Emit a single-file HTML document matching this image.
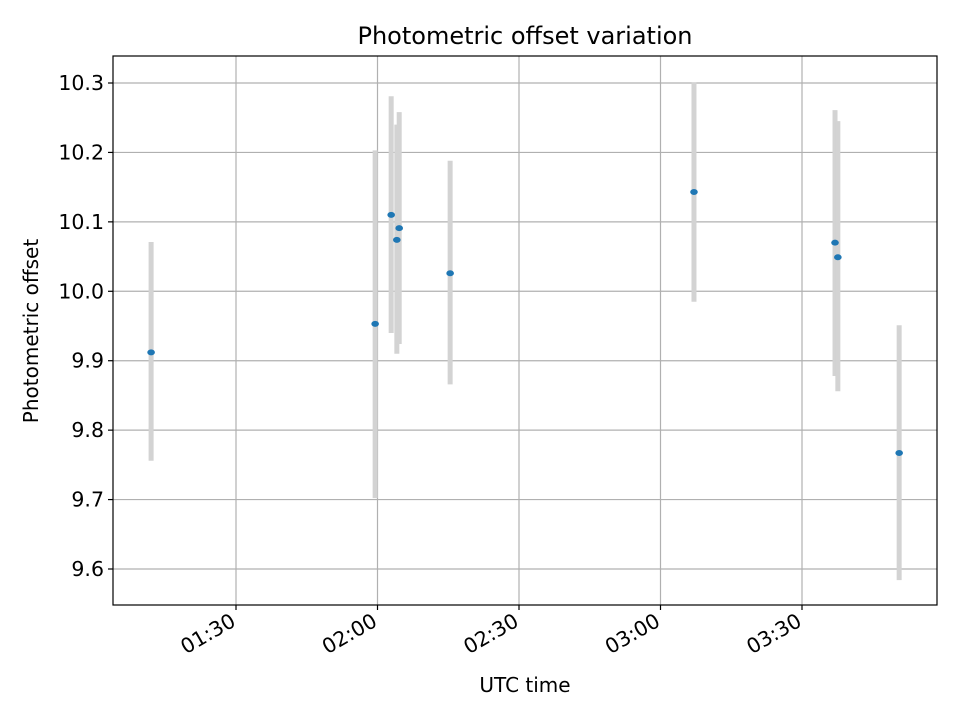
<!DOCTYPE html>
<html><head><meta charset="utf-8"><style>
html,body{margin:0;padding:0;background:#fff;}
svg{display:block;font-family:"DejaVu Sans","Liberation Sans",sans-serif;}
</style></head><body>
<svg id="chart" width="960" height="720" viewBox="0 0 960 720" xmlns="http://www.w3.org/2000/svg">
<rect width="960" height="720" fill="#fff"/>
<g id="grid"></g>
<g id="bars"></g>
<g id="pts"></g>
<rect x="113" y="56" width="824" height="549" fill="none" stroke="#000" stroke-width="1.2"/>
<g id="ticks"></g>
<text x="525" y="44" font-size="24" text-anchor="middle">Photometric offset variation</text>
<text x="525" y="692" font-size="20" text-anchor="middle">UTC time</text>
<text transform="translate(38,331) rotate(-90)" font-size="20" text-anchor="middle">Photometric offset</text>
</svg>
<script>
// minutes since 01:00 UTC
const times = [72, 119.5, 122.9, 124.1, 124.6, 135.4, 187.1, 217.0, 217.6, 230.6];
const offsets = [9.912, 9.953, 10.110, 10.074, 10.091, 10.026, 10.143, 10.070, 10.049, 9.767];
const errLow = [0.156, 0.251, 0.170, 0.164, 0.167, 0.160, 0.158, 0.192, 0.193, 0.183];
const errHigh = [0.159, 0.250, 0.171, 0.166, 0.167, 0.162, 0.158, 0.191, 0.196, 0.184];
const yTicks = [9.6, 9.7, 9.8, 9.9, 10.0, 10.1, 10.2, 10.3];
const xTicks = [90, 120, 150, 180, 210];
const xTickLabels = ["01:30", "02:00", "02:30", "03:00", "03:30"];

const L=113,R=937,T=56,B=605;
const xS = m => 236 + (m-90)*141.5/30;
const yS = v => 569 - (v-9.6)*(486/0.7);
const NS="http://www.w3.org/2000/svg";
function mk(tag, attrs, parent){const e=document.createElementNS(NS,tag);for(const k in attrs)e.setAttribute(k,attrs[k]);parent.appendChild(e);return e;}
const grid=document.getElementById('grid'), ticks=document.getElementById('ticks');
const bars=document.getElementById('bars'), pts=document.getElementById('pts');
yTicks.forEach(v=>{
  const y=yS(v);
  const g=mk('line',{x1:L,x2:R,y1:y,y2:y,stroke:'#b0b0b0','stroke-width':1.2},grid);
  
  
  const t=mk('line',{x1:L-5,x2:L,y1:y,y2:y,stroke:'#000','stroke-width':1.2},ticks);
  
  
  const tx=mk('text',{x:L-9,y:y+7,'font-size':20.5,'text-anchor':'end'},ticks);
  
  
  tx.textContent=v.toFixed(1);
});
xTicks.forEach((m,i)=>{
  const x=xS(m);
  const g=mk('line',{x1:x,x2:x,y1:T,y2:B,stroke:'#b0b0b0','stroke-width':1.2},grid);
  
  
  const t=mk('line',{x1:x,x2:x,y1:B,y2:B+5,stroke:'#000','stroke-width':1.2},ticks);
  
  
  const tx=mk('text',{x:0,y:0,'font-size':20.5,'text-anchor':'end',transform:`translate(${x+1},${B+20}) rotate(-30)`},ticks);
  
  
  tx.textContent=xTickLabels[i];
});
times.forEach((m,i)=>{
  const x=xS(m);
  const b=mk('line',{x1:x,x2:x,y1:yS(offsets[i]+errHigh[i]),y2:yS(offsets[i]-errLow[i]),stroke:'#d3d3d3','stroke-width':5},bars);
  
  
});
times.forEach((m,i)=>{
  const p=mk('ellipse',{cx:xS(m),cy:yS(offsets[i]),rx:3.8,ry:3,fill:'#1f77b4'},pts);
  
  
});
</script>
</body></html>
